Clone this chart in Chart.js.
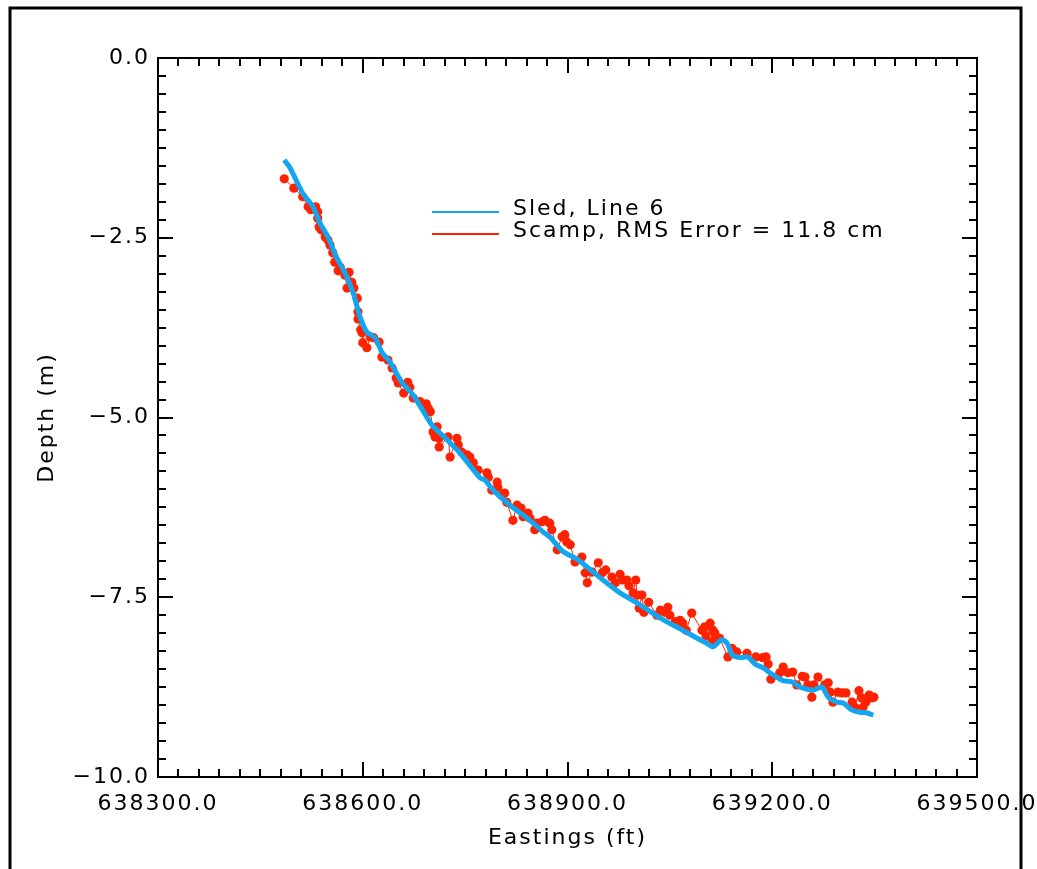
<!DOCTYPE html>
<html>
<head>
<meta charset="utf-8">
<script src="https://cdn.jsdelivr.net/npm/chart.js@4"></script>
<style>
  html, body { margin: 0; padding: 0; background: #fff; }
  #wrap { width: 1037px; height: 869px; }
</style>
</head>
<body>
<div id="wrap"><canvas id="chart" width="1037" height="869"></canvas></div>
<script>
// tick labels
const eastingTicks = [638300, 638600, 638900, 639200, 639500];
const depthTicks = [-10, -7.5, -5, -2.5, 0];

// Sled, Line 6 (blue)
const sledEast = [
  638485, 638493, 638512, 638527, 638537, 638549, 638562, 638574, 638586, 638596,
  638606, 638618, 638628, 638640, 638658, 638674, 638701, 638716, 638742, 638772,
  638779, 638791, 638816, 638845, 638864, 638874, 638893, 638914, 638930, 638952,
  638977, 639002, 639036, 639069, 639090, 639104, 639113, 639126, 639134, 639141,
  639153, 639164, 639175, 639186, 639201, 639216, 639230, 639241, 639260, 639273,
  639282, 639295, 639304, 639317, 639329, 639339, 639348
];
const sledDepth = [
  -1.42, -1.52, -1.88, -2.07, -2.29, -2.49, -2.78, -2.99, -3.27, -3.60,
  -3.81, -3.89, -4.09, -4.23, -4.52, -4.69, -5.10, -5.24, -5.49, -5.84,
  -5.87, -6.01, -6.22, -6.43, -6.59, -6.66, -6.86, -6.97, -7.09, -7.26,
  -7.44, -7.58, -7.79, -7.96, -8.07, -8.14, -8.19, -8.09, -8.14, -8.30,
  -8.34, -8.33, -8.43, -8.48, -8.58, -8.66, -8.68, -8.75, -8.79, -8.75,
  -8.89, -8.96, -8.97, -9.07, -9.10, -9.11, -9.14
];

// Scamp (red dots)
const scampEast = [
  638485, 638499, 638512, 638520, 638524, 638531, 638534, 638534, 638536, 638539,
  638545, 638549, 638552, 638556, 638559, 638564, 638567, 638574, 638577, 638580,
  638584, 638587, 638592, 638593, 638593, 638597, 638599, 638600, 638606, 638611,
  638616, 638624, 638628, 638637, 638643, 638649, 638652, 638660, 638666, 638669,
  638674, 638684, 638693, 638696, 638699, 638703, 638706, 638709, 638712, 638712,
  638725, 638728, 638738, 638740, 638745, 638753, 638757, 638762, 638769, 638782,
  638784, 638789, 638797, 638798, 638804, 638808, 638811, 638820, 638826, 638832,
  638835, 638842, 638845, 638852, 638855, 638863, 638867, 638874, 638877, 638885,
  638892, 638896, 638899, 638904, 638911, 638921, 638926, 638929, 638936, 638945,
  638951, 638956, 638965, 638970, 638977, 638981, 638987, 638990, 638996, 639000,
  639002, 639005, 639009, 639012, 639019, 639031, 639036, 639043, 639047, 639050,
  639058, 639065, 639069, 639074, 639082, 639097, 639101, 639103, 639109, 639112,
  639113, 639116, 639119, 639123, 639135, 639141, 639148, 639163, 639176, 639186,
  639191, 639194, 639198, 639211, 639216, 639223, 639230, 639236, 639244, 639248,
  639252, 639258, 639261, 639267, 639277, 639282, 639285, 639289, 639296, 639302,
  639308, 639317, 639321, 639327, 639331, 639333, 639337, 639342, 639346, 639349
];
const scampDepth = [
  -1.68, -1.81, -1.93, -2.07, -2.11, -2.07, -2.14, -2.23, -2.35, -2.39,
  -2.49, -2.53, -2.60, -2.71, -2.84, -2.96, -2.91, -3.02, -3.20, -2.98,
  -3.12, -3.20, -3.34, -3.53, -3.63, -3.78, -3.82, -3.96, -4.03, -3.88,
  -3.89, -3.95, -4.16, -4.20, -4.31, -4.45, -4.52, -4.66, -4.51, -4.58,
  -4.73, -4.78, -4.81, -4.87, -4.92, -5.20, -5.27, -5.13, -5.29, -5.41,
  -5.27, -5.55, -5.29, -5.38, -5.48, -5.52, -5.55, -5.63, -5.73, -5.77,
  -5.83, -6.01, -5.90, -5.97, -6.08, -6.05, -6.18, -6.43, -6.22, -6.26,
  -6.38, -6.33, -6.40, -6.56, -6.47, -6.45, -6.43, -6.47, -6.56, -6.84,
  -6.66, -6.63, -6.73, -6.77, -7.01, -6.94, -7.16, -7.30, -7.15, -7.02,
  -7.16, -7.12, -7.22, -7.30, -7.18, -7.26, -7.26, -7.34, -7.44, -7.26,
  -7.47, -7.65, -7.47, -7.71, -7.57, -7.75, -7.68, -7.71, -7.64, -7.75,
  -7.84, -7.82, -7.86, -7.96, -7.72, -7.96, -7.91, -8.04, -7.86, -8.12,
  -7.96, -8.00, -8.07, -8.07, -8.33, -8.21, -8.26, -8.28, -8.33, -8.34,
  -8.33, -8.43, -8.64, -8.55, -8.47, -8.55, -8.54, -8.72, -8.60, -8.61,
  -8.72, -8.89, -8.72, -8.61, -8.72, -8.69, -8.82, -8.96, -8.82, -8.83,
  -8.83, -8.96, -9.03, -8.80, -8.90, -9.03, -8.96, -8.86, -8.90, -8.89
];

const FONT = 'DejaVu Sans';
const blue = '#12a6f0';
const red = '#ff2200';

function fmtTick(v) {
  const s = Math.abs(v).toFixed(1);
  return v < 0 ? '\u2212' + s : s;
}

// outer frame, inward ticks on all four sides, legend
const decor = {
  id: 'decor',
  beforeDraw(chart) {
    const ctx = chart.ctx;
    ctx.save();
    ctx.strokeStyle = '#000';
    ctx.lineWidth = 3;
    ctx.beginPath();
    ctx.moveTo(10, 869);
    ctx.lineTo(10, 8);
    ctx.lineTo(1021, 8);
    ctx.lineTo(1021, 869);
    ctx.stroke();
    ctx.restore();
    // wide Hershey-like spacing for all axis text
    ctx.letterSpacing = '2px';
  },
  afterDraw(chart) {
    const ctx = chart.ctx;
    const { left, right, top, bottom } = chart.chartArea;
    const xs = chart.scales.x, ys = chart.scales.y;
    ctx.save();
    ctx.strokeStyle = '#000';
    ctx.lineWidth = 2;
    ctx.strokeRect(left, top, right - left, bottom - top);
    ctx.beginPath();
    for (let i = 0; i <= 40; i++) {
      const px = Math.round(xs.getPixelForValue(638300 + i * 30));
      const len = i % 10 === 0 ? 15 : 8;
      ctx.moveTo(px, bottom); ctx.lineTo(px, bottom - len);
      ctx.moveTo(px, top); ctx.lineTo(px, top + len);
    }
    for (let i = 0; i <= 40; i++) {
      const py = Math.round(ys.getPixelForValue(-10 + i * 0.25));
      const len = i % 10 === 0 ? 15 : 8;
      ctx.moveTo(left, py); ctx.lineTo(left + len, py);
      ctx.moveTo(right, py); ctx.lineTo(right - len, py);
    }
    ctx.stroke();

    // legend
    const sets = chart.data.datasets;
    ctx.font = '22px "' + FONT + '"';
    ctx.letterSpacing = '2px';
    ctx.fillStyle = '#000';
    ctx.textBaseline = 'middle';
    sets.forEach((ds, i) => {
      const y = 211 + i * 22;
      ctx.strokeStyle = ds.borderColor;
      ctx.lineWidth = 2;
      ctx.beginPath();
      ctx.moveTo(432, y + 1); ctx.lineTo(499, y + 1);
      ctx.stroke();
      ctx.fillText(ds.label, 513, y - 2);
    });
    ctx.restore();
  }
};

const tickFont = { family: FONT, size: 22, weight: 'normal' };

new Chart(document.getElementById('chart'), {
  type: 'scatter',
  data: {
    datasets: [
      {
        label: 'Sled, Line 6',
        data: sledEast.map((x, i) => ({ x, y: sledDepth[i] })),
        showLine: true,
        borderColor: blue,
        backgroundColor: blue,
        borderWidth: 5,
        pointRadius: 0,
        tension: 0.25
      },
      {
        label: 'Scamp, RMS Error = 11.8 cm',
        data: scampEast.map((x, i) => ({ x, y: scampDepth[i] })),
        showLine: true,
        borderColor: red,
        backgroundColor: red,
        borderWidth: 1,
        pointRadius: 4.6,
        pointBorderWidth: 0
      }
    ]
  },
  options: {
    responsive: false,
    animation: false,
    devicePixelRatio: 1,
    layout: { padding: { left: 10, top: 58, right: 60, bottom: 0 } },
    plugins: { legend: { display: false }, tooltip: { enabled: false } },
    scales: {
      x: {
        type: 'linear',
        min: 638300,
        max: 639500,
        afterBuildTicks: s => { s.ticks = eastingTicks.map(v => ({ value: v })); },
        afterFit: s => { s.height = 92; s.paddingLeft = 0; s.paddingRight = 0; },
        grid: { display: false, drawTicks: false },
        border: { display: false },
        ticks: {
          color: '#000', font: tickFont, padding: 14, maxRotation: 0, autoSkip: false,
          callback: v => fmtTick(v)
        },
        title: {
          display: true, text: 'Eastings (ft)', color: '#000', font: tickFont,
          padding: { top: 0, bottom: 18 }
        }
      },
      y: {
        type: 'linear',
        min: -10,
        max: 0,
        afterBuildTicks: s => { s.ticks = depthTicks.map(v => ({ value: v })); },
        afterFit: s => { s.width = 148; s.paddingTop = 0; s.paddingBottom = 0; },
        grid: { display: false, drawTicks: false },
        border: { display: false },
        ticks: {
          color: '#000', font: tickFont, padding: 8, autoSkip: false,
          callback: v => fmtTick(v)
        },
        title: {
          display: true, text: 'Depth (m)', color: '#000', font: tickFont,
          padding: { top: 24, bottom: 0 }
        }
      }
    }
  },
  plugins: [decor]
});
</script>
</body>
</html>
